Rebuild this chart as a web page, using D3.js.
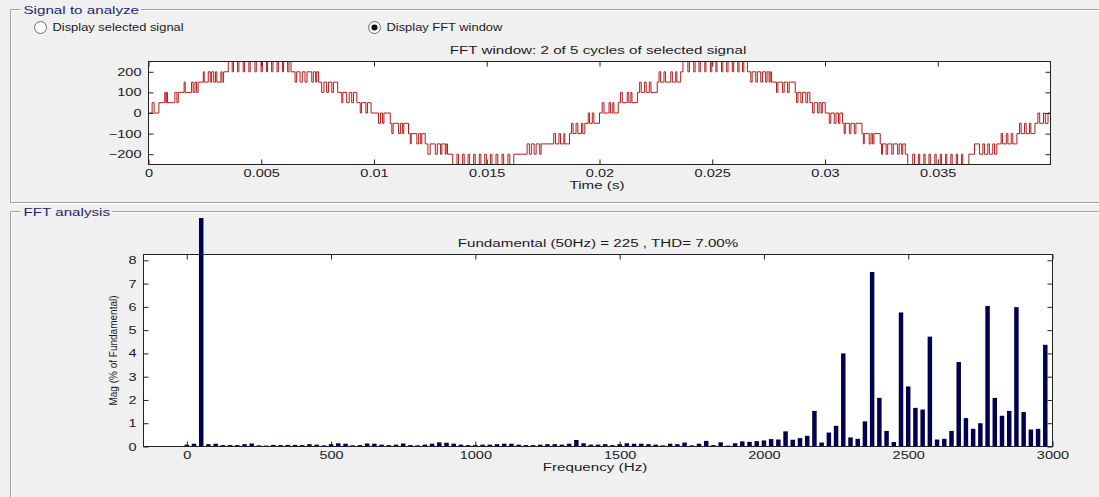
<!DOCTYPE html>
<html>
<head>
<meta charset="utf-8">
<script src="https://cdn.jsdelivr.net/npm/d3@7"></script>
<style>
  body { margin: 0; background: #f0f0f0; }
  svg { display: block; }
  text { font-family: "Liberation Sans", Arial, sans-serif; fill: #1c1c1c; }
</style>
</head>
<body>
<svg id="fig" width="1099" height="497"></svg>
<script>
// ---------------- data ----------------
// Time-domain window: step edges [time in ms, level in V]; the level holds until the next edge.
const waveSteps = [
  [0,0],[0.16,50],[0.25,0],[0.46,50],[0.72,100],[0.77,50],[0.81,100],[0.84,50],[1.17,100],[1.26,50],[1.32,100],
  [1.58,150],[1.63,100],[1.91,150],[1.98,100],[2.06,150],[2.13,100],[2.20,150],
  [2.43,200],[2.47,150],[2.65,200],[2.74,150],[2.80,200],[2.89,150],[2.97,200],[3.03,150],[3.21,200],[3.26,150],[3.33,200],
  [3.54,250],[3.71,200],[3.77,250],[3.95,200],[4.01,250],[4.20,200],[4.26,250],[4.45,200],[4.51,250],[4.72,200],[4.78,250],
  [4.99,200],[5.05,250],[5.23,200],[5.28,250],[5.46,200],[5.52,250],[5.70,200],[5.76,250],[5.94,200],[5.99,250],[6.17,200],[6.23,250],[6.32,200],
  [6.50,150],[6.57,200],[6.72,150],[6.82,200],[6.94,150],[7.03,200],[7.24,150],[7.31,200],[7.41,150],[7.46,200],[7.54,150],
  [7.68,100],[7.78,150],[7.90,100],[7.98,150],[8.13,100],[8.20,150],[8.39,100],
  [8.57,50],[8.62,100],[8.79,50],[8.90,100],[9.01,50],[9.09,100],[9.24,50],
  [9.39,0],[9.45,50],[9.64,0],[9.71,50],[9.87,0],
  [10.20,-50],[10.29,0],[10.38,-50],[10.44,0],[10.72,-50],
  [10.79,-100],[10.85,-50],[11.09,-100],[11.18,-50],[11.27,-100],[11.32,-50],[11.53,-100],
  [11.61,-150],[11.65,-100],[11.90,-150],[11.98,-100],[12.07,-150],[12.12,-100],[12.27,-150],
  [12.39,-200],[12.49,-150],[12.72,-200],[12.81,-150],[12.95,-200],[13.01,-150],[13.16,-200],[13.20,-150],[13.26,-200],
  [13.49,-250],[13.68,-200],[13.75,-250],[13.93,-200],[14.00,-250],[14.17,-200],[14.24,-250],[14.42,-200],[14.49,-250],
  [14.67,-200],[14.74,-250],[14.91,-200],[14.98,-250],[15.16,-200],[15.23,-250],[15.41,-200],[15.49,-250],[15.68,-200],
  [15.75,-250],[15.94,-200],[16.02,-250],[16.20,-200],
  [16.79,-150],[16.89,-200],[16.98,-150],[17.10,-200],[17.19,-150],[17.35,-200],[17.41,-150],
  [17.97,-100],[18.05,-150],[18.20,-100],[18.27,-150],[18.42,-100],[18.46,-150],[18.67,-100],
  [18.76,-50],[18.83,-100],[18.96,-50],[19.04,-100],[19.20,-50],[19.26,-100],[19.35,-50],
  [19.50,0],[19.56,-50],[19.68,0],[19.75,-50],[20.00,0],
  [20.12,50],[20.20,0],[20.42,50],[20.49,0],[20.59,50],[20.64,0],[20.83,50],
  [20.93,100],[21.01,50],[21.23,100],[21.30,50],[21.39,100],[21.44,50],[21.68,100],
  [21.78,150],[21.85,100],[22.00,150],[22.07,100],[22.21,150],[22.28,100],[22.56,150],
  [22.64,200],[22.71,150],[22.86,200],[22.93,150],[23.16,200],[23.23,150],[23.38,200],[23.43,150],[23.60,200],
  [23.70,250],[23.92,200],[23.99,250],[24.18,200],[24.24,250],[24.41,200],[24.47,250],[24.67,200],[24.72,250],
  [24.92,200],[24.98,250],[25.16,200],[25.21,250],[25.41,200],[25.47,250],[25.64,200],[25.70,250],[25.89,200],
  [25.95,250],[26.13,200],[26.19,250],[26.34,200],[26.40,250],[26.56,200],
  [26.71,150],[26.77,200],[26.93,150],[27.00,200],[27.15,150],[27.23,200],[27.37,150],[27.43,200],[27.52,150],[27.57,200],[27.63,150],
  [27.85,100],[27.91,150],[28.12,100],[28.19,150],[28.34,100],[28.41,150],[28.68,100],
  [28.74,50],[28.80,100],[28.93,50],[29.00,100],[29.15,50],[29.23,100],[29.33,50],
  [29.45,0],[29.52,50],[29.67,0],[29.74,50],[29.83,0],[29.88,50],[30.01,0],
  [30.19,-50],[30.26,0],[30.41,-50],[30.49,0],[30.60,-50],[30.66,0],[30.78,-50],
  [30.85,-100],[30.90,-50],[31.08,-100],[31.15,-50],[31.30,-100],[31.37,-50],[31.64,-100],
  [31.70,-150],[31.74,-100],[31.96,-150],[32.04,-100],[32.11,-150],[32.17,-100],[32.45,-150],
  [32.51,-200],[32.55,-150],[32.71,-200],[32.78,-150],[32.96,-200],[33.03,-150],[33.22,-200],[33.29,-150],[33.40,-200],[33.45,-150],[33.56,-200],
  [33.67,-250],[33.89,-200],[33.97,-250],[34.14,-200],[34.20,-250],[34.38,-200],[34.44,-250],[34.61,-200],[34.67,-250],
  [34.87,-200],[34.93,-250],[35.11,-200],[35.17,-250],[35.35,-200],[35.40,-250],[35.58,-200],[35.64,-250],[35.82,-200],
  [35.88,-250],[36.05,-200],[36.11,-250],[36.38,-200],
  [36.63,-150],[36.85,-200],[37.00,-150],[37.07,-200],[37.22,-150],[37.29,-200],[37.44,-150],[37.52,-200],[37.62,-150],
  [37.81,-100],[37.87,-150],[38.04,-100],[38.11,-150],[38.26,-100],[38.33,-150],[38.51,-100],
  [38.63,-50],[38.70,-100],[38.85,-50],[38.92,-100],[39.07,-50],[39.13,-100],[39.31,-50],
  [39.44,0],[39.52,-50],[39.69,0],[39.77,-50],[39.89,0],[40.00,0]
];
const timeTicks = [0, 0.005, 0.01, 0.015, 0.02, 0.025, 0.03, 0.035];
const timeTickLabels = ["0", "0.005", "0.01", "0.015", "0.02", "0.025", "0.03", "0.035"];
const voltTicks = [-200, -100, 0, 100, 200];

// Spectrum: one magnitude (% of fundamental) per 25 Hz bin, 0 Hz .. 3000 Hz.
const binHz = 25;
const harmonicMag = [
  // 0 - 475 Hz
  0.08, 0.12, 100, 0.10, 0.12, 0.06, 0.06, 0.06, 0.10, 0.13, 0.05, 0.04, 0.07, 0.06, 0.07, 0.07, 0.06, 0.10, 0.08, 0.05,
  // 500 - 975 Hz
  0.10, 0.14, 0.12, 0.05, 0.06, 0.13, 0.12, 0.08, 0.06, 0.08, 0.13, 0.06, 0.05, 0.08, 0.12, 0.18, 0.16, 0.12, 0.08, 0.06,
  // 1000 - 1475 Hz
  0.06, 0.08, 0.08, 0.10, 0.12, 0.12, 0.08, 0.06, 0.06, 0.08, 0.10, 0.10, 0.08, 0.12, 0.28, 0.14, 0.08, 0.08, 0.10, 0.06,
  // 1500 - 1975 Hz
  0.10, 0.14, 0.12, 0.12, 0.10, 0.08, 0.05, 0.12, 0.10, 0.17, 0.05, 0.12, 0.24, 0.06, 0.18, 0.04, 0.14, 0.22, 0.20, 0.23,
  // 2000 - 2475 Hz
  0.26, 0.32, 0.30, 0.65, 0.29, 0.36, 0.46, 1.53, 0.17, 0.60, 0.89, 4.00, 0.39, 0.33, 1.08, 7.50, 2.09, 0.67, 0.19, 5.76,
  // 2500 - 2975 Hz
  2.58, 1.66, 1.59, 4.72, 0.30, 0.33, 0.67, 3.63, 1.22, 0.76, 1.00, 6.04, 2.09, 1.32, 1.53, 5.99, 1.48, 0.73, 0.76, 4.37,
  // 3000 Hz
  0.00
];
const freqTicks = [0, 500, 1000, 1500, 2000, 2500, 3000];
const magTicks = [0, 1, 2, 3, 4, 5, 6, 7, 8];
const fundamentalHz = 50;
const fundamentalAmp = 225;
const thdPercent = 7.00;
const cyclesShown = 2, cyclesTotal = 5;

// ---------------- drawing ----------------
const svg = d3.select("#fig");
const TICK = 5;
const FONT = 11;
const SX_TITLE = 1.38;   // the GUI renders its text wide
const SX_TICK = 1.32;

// horizontally stretched label
function htext(parent, x, y, str, size, anchor, sx, color) {
  return parent.append("text")
    .attr("transform", `translate(${x},${y}) scale(${sx},1)`)
    .attr("text-anchor", anchor).attr("font-size", size)
    .style("fill", color || "#1c1c1c").text(str);
}

// etched group-box frame with a title breaking the top edge
function groupBox(x, y, w, h, title) {
  const g = svg.append("g");
  const t = htext(g, x + 13, y + 4, title, FONT, "start", SX_TITLE, "#25256a");
  const tw = t.node().getComputedTextLength() * SX_TITLE;
  const path = `M${x + 10},${y} H${x} V${y + h} H${x + w} V${y} H${x + 15 + tw}`;
  g.insert("path", "text").attr("d", path).attr("fill", "none").attr("stroke", "#ffffff")
    .attr("transform", "translate(1,1)");
  g.insert("path", "text").attr("d", path).attr("fill", "none").attr("stroke", "#a0a0a0");
}
groupBox(10.5, 9.5, 1100, 193, "Signal to analyze");
groupBox(10.5, 211.5, 1100, 300, "FFT analysis");

// radio buttons
function radio(cx, cy, label, on) {
  svg.append("circle").attr("cx", cx).attr("cy", cy).attr("r", 6)
    .attr("fill", "#fbfbfb").attr("stroke", "#6e6e6e");
  if (on) svg.append("circle").attr("cx", cx).attr("cy", cy).attr("r", 3).attr("fill", "#111");
  htext(svg, cx + 12, cy + 3.5, label, 10, "start", 1.29);
}
radio(40.5, 27.5, "Display selected signal", false);
radio(374.5, 27.5, "Display FFT window", true);

function styleAxis(g, anchor, pad) {
  g.select(".domain").remove();
  g.selectAll(".tick line").attr("stroke", "#222");
  const t = g.selectAll(".tick text").attr("font-size", FONT).style("fill", "#1c1c1c");
  if (anchor === "end") {
    t.attr("x", null).attr("transform", `translate(${-pad},0) scale(${SX_TICK},1)`);
  } else {
    t.attr("transform", `scale(${SX_TICK},1)`);
  }
}

// ---- time-domain axes ----
const tx = d3.scaleLinear().domain([0, 0.04]).range([148.5, 1050.5]);
const ty = d3.scaleLinear().domain([-250, 250]).range([164.5, 61.5]);
const gTop = svg.append("g");
gTop.append("rect").attr("x", tx.range()[0]).attr("y", ty.range()[1])
  .attr("width", tx.range()[1] - tx.range()[0]).attr("height", ty.range()[0] - ty.range()[1])
  .attr("fill", "#fff");

const wavePts = waveSteps.map(d => [d[0] / 1000, d[1]]);
gTop.append("path").datum(wavePts)
  .attr("d", d3.line().x(d => tx(d[0])).y(d => ty(d[1])).curve(d3.curveStepAfter))
  .attr("fill", "none").attr("stroke", "#b41c1c").attr("stroke-width", 1);

gTop.append("g").attr("transform", `translate(0,${ty.range()[0]})`)
  .call(d3.axisBottom(tx).tickValues(timeTicks).tickFormat((d, i) => timeTickLabels[i]).tickSize(-TICK).tickPadding(5))
  .call(g => styleAxis(g));
gTop.append("g").attr("transform", `translate(0,${ty.range()[1]})`)
  .call(d3.axisTop(tx).tickValues(timeTicks).tickFormat("").tickSize(-TICK))
  .call(g => styleAxis(g));
gTop.append("g").attr("transform", `translate(${tx.range()[0]},0)`)
  .call(d3.axisLeft(ty).tickValues(voltTicks).tickSize(-TICK))
  .call(g => styleAxis(g, "end", 7));
gTop.append("g").attr("transform", `translate(${tx.range()[1]},0)`)
  .call(d3.axisRight(ty).tickValues(voltTicks).tickFormat("").tickSize(-TICK))
  .call(g => styleAxis(g));
gTop.append("rect").attr("x", tx.range()[0]).attr("y", ty.range()[1])
  .attr("width", tx.range()[1] - tx.range()[0]).attr("height", ty.range()[0] - ty.range()[1])
  .attr("fill", "none").attr("stroke", "#222");
htext(gTop, 598, 54, `FFT window: ${cyclesShown} of ${cyclesTotal} cycles of selected signal`, FONT, "middle", SX_TITLE);
htext(gTop, 597, 189, "Time (s)", FONT, "middle", SX_TITLE);

// ---- spectrum axes ----
const fx = d3.scaleLinear().domain([-150, 3000]).range([143.5, 1052.5]);
const fy = d3.scaleLinear().domain([0, 8.25]).range([446.5, 254.5]);
const gBot = svg.append("g");
gBot.append("rect").attr("x", fx.range()[0]).attr("y", fy.range()[1])
  .attr("width", fx.range()[1] - fx.range()[0]).attr("height", fy.range()[0] - fy.range()[1])
  .attr("fill", "#fff");

// bars are clipped by the group box interior, so the fundamental pokes above the axes
svg.append("clipPath").attr("id", "panelClip").append("rect")
  .attr("x", fx.range()[0]).attr("y", 218).attr("width", fx.range()[1] - fx.range()[0])
  .attr("height", fy.range()[0] - 218);

const bins = harmonicMag.map((m, i) => ({ f: i * binHz, m }));
const barW = (fx(binHz) - fx(0)) * 0.62;
gBot.append("g").attr("clip-path", "url(#panelClip)")
  .selectAll("rect").data(bins).join("rect")
  .attr("x", d => fx(d.f) - barW / 2)
  .attr("y", d => fy(d.m))
  .attr("width", barW)
  .attr("height", d => fy(0) - fy(d.m))
  .attr("fill", "#00004e");

gBot.append("g").attr("transform", `translate(0,${fy.range()[0]})`)
  .call(d3.axisBottom(fx).tickValues(freqTicks).tickFormat(d3.format("d")).tickSize(-TICK).tickPadding(5))
  .call(g => styleAxis(g));
gBot.append("g").attr("transform", `translate(0,${fy.range()[1]})`)
  .call(d3.axisTop(fx).tickValues(freqTicks).tickFormat("").tickSize(-TICK))
  .call(g => styleAxis(g));
gBot.append("g").attr("transform", `translate(${fx.range()[0]},0)`)
  .call(d3.axisLeft(fy).tickValues(magTicks).tickSize(-TICK))
  .call(g => styleAxis(g, "end", 7));
gBot.append("g").attr("transform", `translate(${fx.range()[1]},0)`)
  .call(d3.axisRight(fy).tickValues(magTicks).tickFormat("").tickSize(-TICK))
  .call(g => styleAxis(g));
gBot.append("rect").attr("x", fx.range()[0]).attr("y", fy.range()[1])
  .attr("width", fx.range()[1] - fx.range()[0]).attr("height", fy.range()[0] - fy.range()[1])
  .attr("fill", "none").attr("stroke", "#222");
htext(gBot, 598, 247, `Fundamental (${fundamentalHz}Hz) = ${fundamentalAmp} , THD= ${thdPercent.toFixed(2)}%`, FONT, "middle", SX_TITLE);
htext(gBot, 595, 471, "Frequency (Hz)", FONT, "middle", SX_TITLE);
gBot.append("text").attr("transform", `translate(117,${(fy.range()[0] + fy.range()[1]) / 2}) rotate(-90)`)
  .attr("text-anchor", "middle").attr("font-size", 10).text("Mag (% of Fundamental)");
</script>
</body>
</html>
